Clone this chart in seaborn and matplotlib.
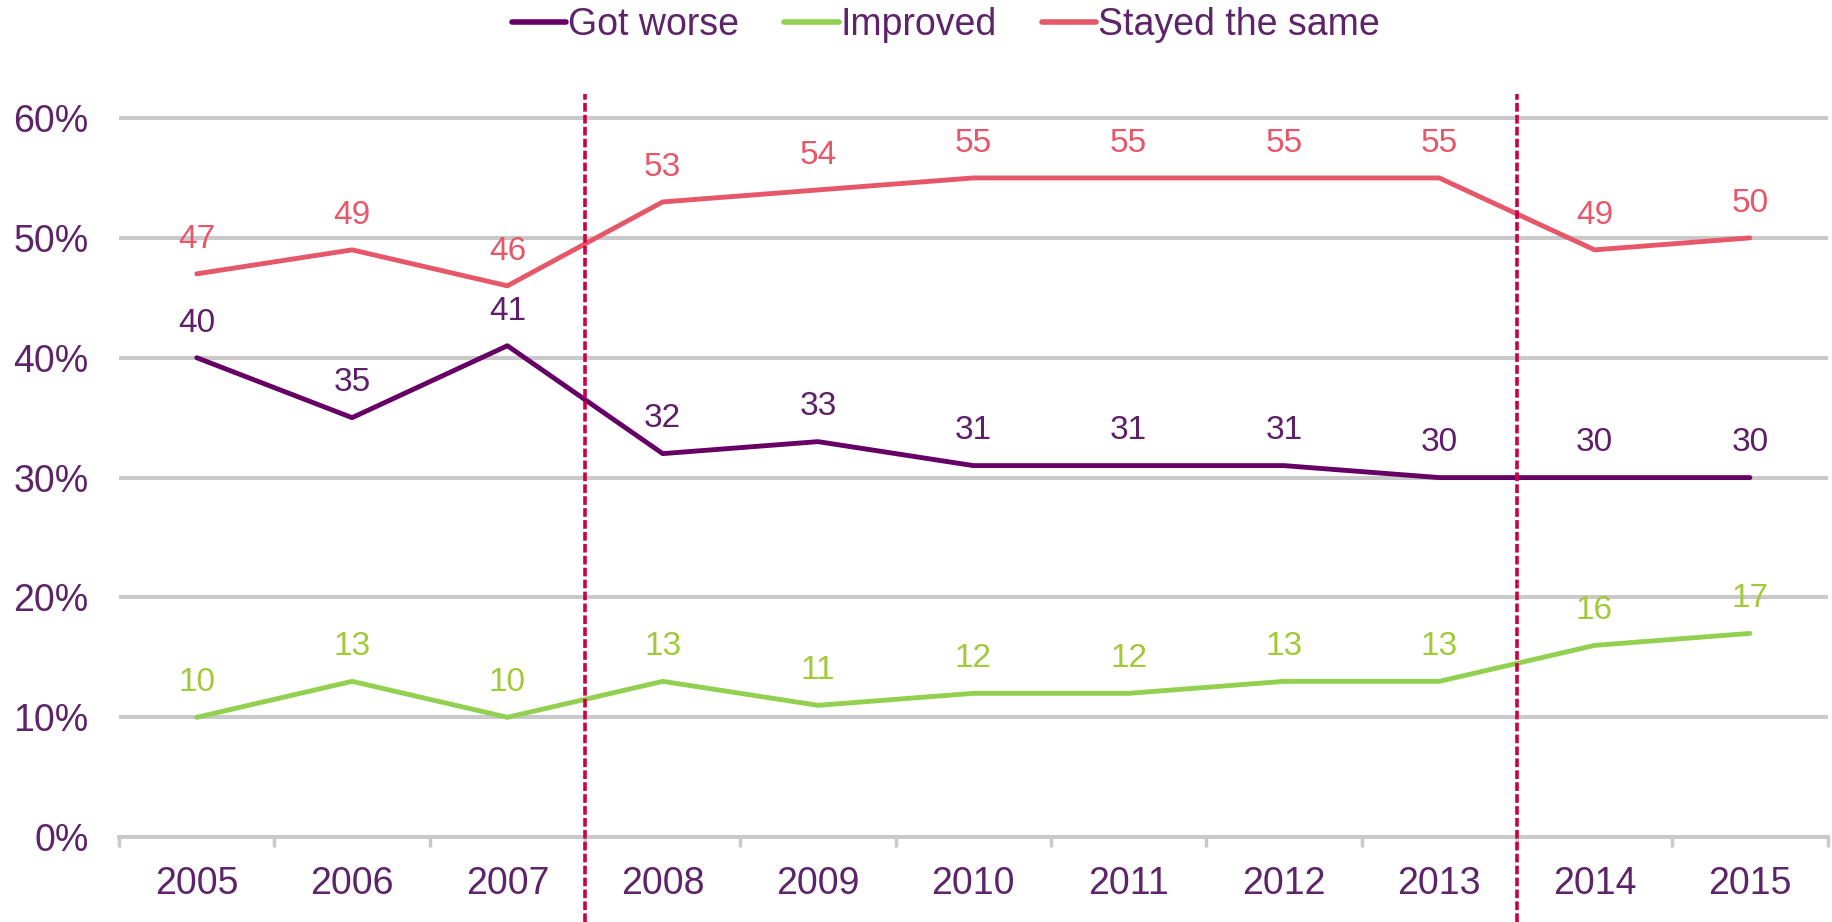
import seaborn as sns
import numpy as np
import pandas as pd
import matplotlib
matplotlib.use('Agg')
import matplotlib.pyplot as plt

years = ['2005', '2006', '2007', '2008', '2009', '2010', '2011', '2012', '2013', '2014', '2015']
got_worse = [40, 35, 41, 32, 33, 31, 31, 31, 30, 30, 30]
improved = [10, 13, 10, 13, 11, 12, 12, 13, 13, 16, 17]
stayed_same = [47, 49, 46, 53, 54, 55, 55, 55, 55, 49, 50]
series_names = ['Got worse', 'Improved', 'Stayed the same']
y_ticks = [0, 10, 20, 30, 40, 50, 60]
breaks = [2.5, 8.5]  # between 2007/2008 and 2013/2014

line_colors = {'Got worse': '#660066', 'Improved': '#92D050', 'Stayed the same': '#E65769'}
label_colors = {'Got worse': '#5E1F68', 'Improved': '#A2C93A', 'Stayed the same': '#E65769'}
text_col = '#5E2469'
grid_col = '#C9C9C9'

sns.set_style('white')
plt.rcParams['font.family'] = ['Liberation Sans', 'DejaVu Sans']

df = pd.DataFrame({
    'year': years * 3,
    'value': got_worse + improved + stayed_same,
    'series': np.repeat(series_names, len(years)),
})

fig = plt.figure(figsize=(18.33, 9.22), dpi=100)
ax = fig.add_axes([0.065, 0.092, 0.932, 0.806])

# grid first
for t in y_ticks[1:]:
    ax.axhline(t, color=grid_col, lw=2.9, zorder=0)

sns.lineplot(data=df, x='year', y='value', hue='series', hue_order=series_names,
             palette=line_colors, lw=3.5, sort=False, ax=ax, zorder=3,
             solid_capstyle='round')

for name, vals in zip(series_names, [got_worse, improved, stayed_same]):
    for i, v in enumerate(vals):
        ax.annotate(str(v), (i, v), xytext=(0, 25), textcoords='offset points',
                    ha='center', va='center', fontsize=24, color=label_colors[name])

for b in breaks:
    ax.axvline(b, ymin=-0.114, ymax=1, clip_on=False, color='#CC0044',
               lw=2.6, ls=(0, (2.4, 0.9)), zorder=4)

ax.set_xlim(-0.5, len(years) - 0.5)
ax.set_ylim(0, 62)
ax.set_yticks(y_ticks)
ax.set_yticklabels([f'{t}%' for t in y_ticks])
ax.set_xticks(range(len(years)))
ax.set_xticks(np.arange(-0.5, len(years)), minor=True)
ax.tick_params(axis='y', length=0, pad=22, labelsize=27, labelcolor=text_col)
ax.tick_params(axis='x', which='major', length=0, pad=21, labelsize=27, labelcolor=text_col)
ax.tick_params(axis='x', which='minor', bottom=True, length=7.5, width=2.5, color=grid_col, direction='out')
ax.set_xlabel('')
ax.set_ylabel('')

for s in ['top', 'right', 'left']:
    ax.spines[s].set_visible(False)
ax.spines['bottom'].set_color(grid_col)
ax.spines['bottom'].set_linewidth(2.9)

handles, labels = ax.get_legend_handles_labels()
ax.legend_.remove()
leg = fig.legend(handles, labels, loc='center', bbox_to_anchor=(0.516, 0.973), ncol=3,
                 frameon=False, fontsize=27, handlelength=1.45, handletextpad=0.05,
                 columnspacing=1.2)
for txt in leg.get_texts():
    txt.set_color(text_col)
for h in leg.get_lines():
    h.set_linewidth(4)

fig.savefig('out.png', dpi=100)
